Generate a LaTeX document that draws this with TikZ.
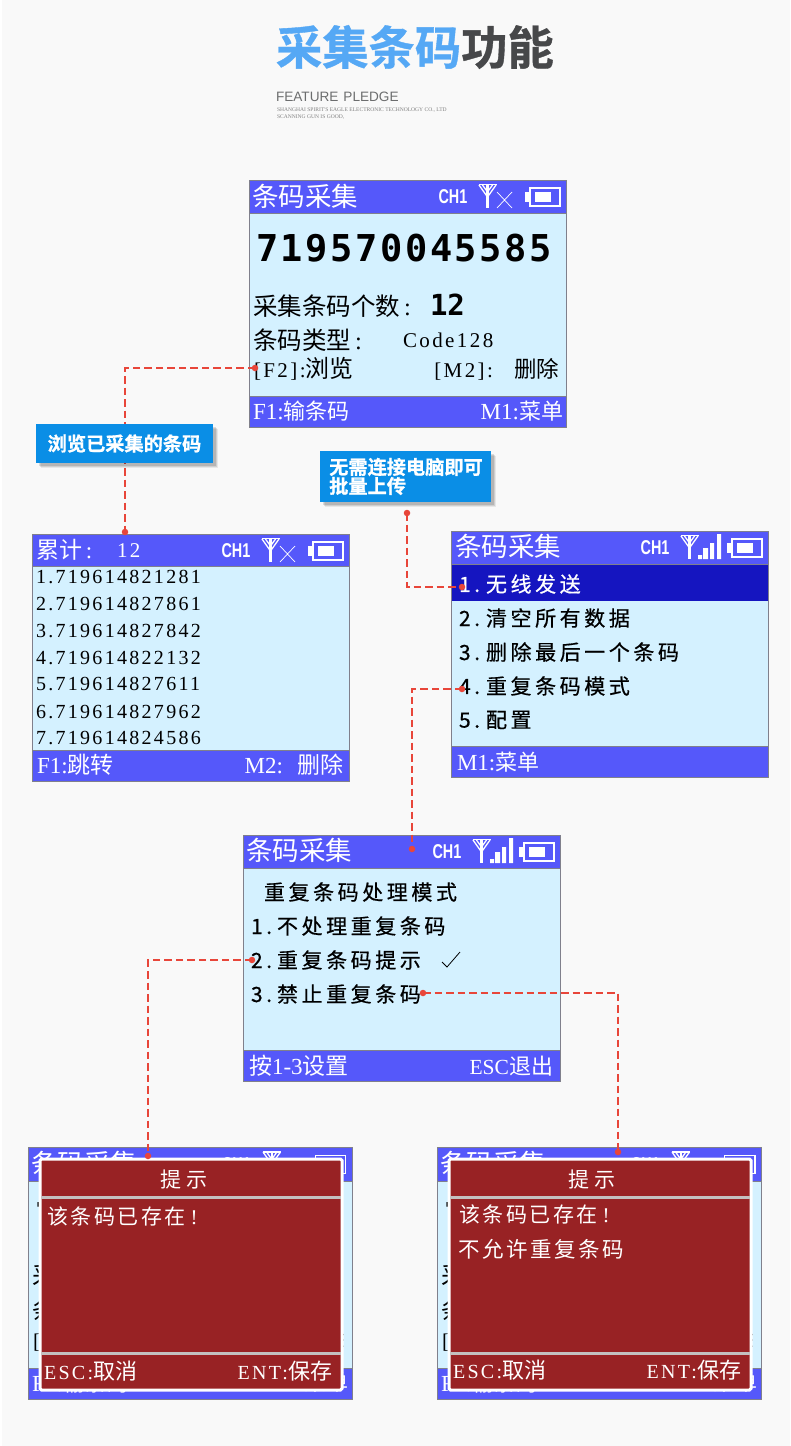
\documentclass[tikz,border=0pt]{standalone}
\usepackage{fontspec}
\usepackage{graphicx}
\usetikzlibrary{shadows}
\setmainfont{Liberation Serif}
\newfontfamily\cjk{Noto Sans CJK SC}
\newfontfamily\cjkw[LetterSpace=17,FakeBold=.6]{Noto Sans CJK SC}
\newfontfamily\cjkd[LetterSpace=12]{Noto Sans CJK SC}
\newfontfamily\cjkt[FakeBold=.8]{Noto Sans CJK SC Bold}
\newfontfamily\ser{Liberation Serif}
\newfontfamily\serw[LetterSpace=11.5]{Liberation Serif}
\newfontfamily\mono{DejaVu Sans Mono}
\newfontfamily\monow[LetterSpace=7]{DejaVu Sans Mono}
\newfontfamily\sans{Liberation Sans}
\newcommand{\fs}[1]{\fontsize{#1}{#1}\selectfont}
\definecolor{pagebg}{HTML}{F9F9F9}
\definecolor{hdrc}{HTML}{5558FA}
\definecolor{bodyc}{HTML}{D4F1FF}
\definecolor{framec}{HTML}{80808C}
\definecolor{hilite}{HTML}{1515C0}
\definecolor{dlgc}{HTML}{982224}
\definecolor{sepc}{HTML}{C4C0C0}
\definecolor{linkc}{HTML}{E8463A}
\definecolor{callc}{HTML}{0A8EE6}
\definecolor{titleb}{HTML}{55A8F5}
\definecolor{titled}{HTML}{47484A}
\tikzset{
  txt/.style={inner sep=0pt,outer sep=0pt,anchor=west,text=black},
  wtxt/.style={txt,text=white},
  etxt/.style={inner sep=0pt,outer sep=0pt,anchor=east,text=white},
  scrbody/.style={fill=bodyc,inner sep=0pt,outer sep=0pt,anchor=north west},
  scrline/.style={draw=framec,line width=1pt},
  conn/.style={draw=linkc,line width=1.8pt,dash pattern=on 7.5pt off 4pt},
  dotn/.style={circle,fill=linkc,inner sep=0pt,minimum size=6.5pt,outer sep=0pt},
  callout/.style={fill=callc,inner sep=0pt,outer sep=0pt,anchor=north west,text=white,
    font=\cjkt\fs{19},
    general shadow={shadow xshift=5pt,shadow yshift=-5pt,fill=black,opacity=.07},
    general shadow={shadow xshift=4pt,shadow yshift=-4pt,fill=black,opacity=.1},
    general shadow={shadow xshift=2.5pt,shadow yshift=-2.5pt,fill=black,opacity=.12}},
  dlg/.style={fill=dlgc,draw=white,line width=3pt,rounded corners=1.5pt,inner sep=0pt,outer sep=0pt,anchor=north west},
  iconw/.style={draw=white,line width=1.3pt}
}
% frame: name, x, y, w, h, header bottom, footer top
\newcommand{\scrframe}[7]{%
  \node[scrbody,minimum width=#4pt,minimum height=#5pt] (#1) at (0,0) {};
  \fill[hdrc] (0,0) rectangle (#4,#6);
  \fill[hdrc] (0,#7) rectangle (#4,#5);
  \draw[scrline] (0,#6) -- (#4,#6) (0,#7) -- (#4,#7);
  \draw[scrline] (#1.north west) rectangle (#1.south east);
}
\newcommand{\chicon}[1]{%
  \node[inner sep=0pt,text=white] (#1ch) at (204,17) {\sans\bfseries\fs{20}\scalebox{.72}[1]{CH1}};
  \draw[iconw,line width=1.8pt] (229.5,4.5) -- (247.5,4.5);
  \draw[iconw,line width=2.4pt] (238.5,4.5) -- (238.5,28);
  \draw[iconw] (230,5) -- (238.5,17) -- (247,5) (233.5,5) -- (238.5,12) -- (243.5,5);
  \draw[iconw] (281,8) rectangle (311,26);
  \fill[white] (286,12) rectangle (302,22);
  \fill[white] (276,12) rectangle (280,22);
}
\newcommand{\nosignal}{\draw[white,line width=.7pt] (248,12) -- (263,28) (263,12) -- (248,28);}
\newcommand{\bars}{\fill[white] (247,24) rectangle (251,28) (252,17) rectangle (257,28) (259,12) rectangle (263,28) (266,3) rectangle (270,28);}
% home screen contents
\newcommand{\homecontent}[1]{%
  \node[wtxt,font=\cjk\fs{26.5}] (#1title) at (3,16) {条码采集};
  \chicon{#1}\nosignal
  \node[txt,font=\monow\bfseries\fs{37}] (#1num) at (7,68) {719570045585};
  \node[txt,font=\cjk\fs{24.5}] (#1count) at (4,126) {采集条码个数\ser\,:};
  \node[txt,font=\mono\bfseries\fs{29}] (#1twelve) at (181,125) {12};
  \node[txt,font=\cjk\fs{24.5}] (#1type) at (4,160) {条码类型\ser\,:};
  \node[txt,font=\serw\fs{21}] (#1code) at (154,160) {Code128};
  \node[txt,font=\serw\fs{21}] (#1browse) at (5,189) {[F2]:\cjk\fs{24}浏览};
  \node[txt,font=\serw\fs{21},anchor=east] (#1del) at (310,189) {[M2]:\hspace{21pt}\cjk\fs{22.5}删除};
  \node[wtxt,font=\ser\fs{23}] (#1f1) at (4,231) {F1:\cjk\fs{22}输条码};
  \node[etxt,font=\ser\fs{23}] (#1m1) at (314,231) {M1:\cjk\fs{22}菜单};
}
\begin{document}
\begin{tikzpicture}[x=1pt,y=-1pt]
\useasboundingbox (0,0) rectangle (790,1446);
\fill[white] (0,0) rectangle (790,1446);
\fill[pagebg] (2,0) rectangle (790,1445.5);

% title
\node[txt,font=\cjkt\fs{46.3}] (title) at (276,47) {\textcolor{titleb}{采集条码}\textcolor{titled}{功能}};
\node[txt,text=titled!80,font=\sans\fs{13.6}] (feature) at (276,97) {FEATURE\hspace{5pt}PLEDGE};
\node[txt,text=gray,font=\ser\fs{5.55}] (sub1) at (277,110.5) {SHANGHAI SPIRIT'S EAGLE ELECTRONIC TECHNOLOGY CO., LTD};
\node[txt,text=gray,font=\ser\fs{5.55}] (sub2) at (277,117) {SCANNING GUN IS GOOD,};

% screen 1
\begin{scope}[shift={(249,180)}]
  \scrframe{sa}{249}{180}{317}{247}{33}{216}
  \homecontent{a}
\end{scope}

% screen 2: list
\begin{scope}[shift={(32,534)}]
  \scrframe{sb}{32}{534}{317}{247}{32}{216}
  \chicon{b}\nosignal
  \node[wtxt,font=\cjk\fs{23}] (btitle) at (4,16) {累计\ser\,:};
  \node[wtxt,font=\serw\fs{21}] (bcnt) at (85,17) {12};
  \node[txt,font=\serw\fs{20}] (bl1) at (4,43) {1.719614821281};
  \node[txt,font=\serw\fs{20}] (bl2) at (4,70) {2.719614827861};
  \node[txt,font=\serw\fs{20}] (bl3) at (4,97) {3.719614827842};
  \node[txt,font=\serw\fs{20}] (bl4) at (4,124) {4.719614822132};
  \node[txt,font=\serw\fs{20}] (bl5) at (4,150) {5.719614827611};
  \node[txt,font=\serw\fs{20}] (bl6) at (4,178) {6.719614827962};
  \node[txt,font=\serw\fs{20}] (bl7) at (4,204) {7.719614824586};
  \node[wtxt,font=\ser\fs{23}] (bf) at (5,231) {F1:\cjk\fs{23}跳转};
  \node[etxt,font=\ser\fs{23}] (bm) at (311,231) {M2:\hspace{14pt}\cjk\fs{23}删除};
\end{scope}

% screen 3: menu
\begin{scope}[shift={(451,531)}]
  \scrframe{sc}{451}{531}{317}{246}{33}{215}
  \fill[hilite] (0.5,34) rectangle (316.5,70);
  \node[wtxt,font=\cjk\fs{26.5}] (ctitle) at (4,15) {条码采集};
  \chicon{c}\bars
  \node[wtxt,font=\cjkw\fs{21}] (c1) at (8,53) {\makebox[27pt][l]{\fs{21}1.}无线发送};
  \node[txt,font=\cjkw\fs{21}] (c2) at (8,87) {\makebox[27pt][l]{\fs{21}2.}清空所有数据};
  \node[txt,font=\cjkw\fs{21}] (c3) at (8,121) {\makebox[27pt][l]{\fs{21}3.}删除最后一个条码};
  \node[txt,font=\cjkw\fs{21}] (c4) at (8,155) {\makebox[27pt][l]{\fs{21}4.}重复条码模式};
  \node[txt,font=\cjkw\fs{21}] (c5) at (8,189) {\makebox[27pt][l]{\fs{21}5.}配置};
  \node[wtxt,font=\ser\fs{23}] (cf) at (6,231) {M1:\cjk\fs{22}菜单};
\end{scope}

% screen 4: duplicate mode
\begin{scope}[shift={(243,835)}]
  \scrframe{sd}{243}{835}{317}{246}{33}{215}
  \node[wtxt,font=\cjk\fs{26.5}] (dtitle) at (3,15) {条码采集};
  \chicon{d}\bars
  \node[txt,font=\cjkw\fs{21}] (dhead) at (21,57) {重复条码处理模式};
  \node[txt,font=\cjkw\fs{21}] (d1) at (8,91) {\makebox[26pt][l]{\fs{21}1.}不处理重复条码};
  \node[txt,font=\cjkw\fs{21}] (d2) at (8,125) {\makebox[26pt][l]{\fs{21}2.}重复条码提示};
  \node[txt,font=\cjkw\fs{21}] (d3) at (8,159) {\makebox[26pt][l]{\fs{21}3.}禁止重复条码};
  \draw[black,line width=.8pt] (199,127) -- (204,132) -- (217,117);
  \node[wtxt,font=\cjk\fs{23}] (df) at (6,231) {按\ser 1-3\cjk 设置};
  \node[etxt,font=\ser\fs{21.5}] (dm) at (310,231) {ESC{\cjk\fs{22}退出}};
\end{scope}

% screen 5
\begin{scope}[shift={(28,1147)}]
  \scrframe{se}{28}{1147}{324}{252}{34}{221}
  \begin{scope}[xscale=1.022,yscale=1.02]
    \homecontent{e}
  \end{scope}
\end{scope}
\node[dlg,minimum width=302pt,minimum height=231pt] (dle) at (40,1159) {};
\draw[sepc,line width=3pt] (41,1197) -- (341,1197) (41,1353) -- (341,1353);
\node[inner sep=0pt,text=white,font=\cjkd\fs{21}] (dlehead) at (184,1180) {提\hspace{5pt}示};
\node[wtxt,font=\cjkd\fs{21}] (dlemsg) at (47,1216) {该条码已存在\hspace{5pt}\ser !};
\node[wtxt,font=\serw\fs{20}] (dleesc) at (44,1371) {ESC:\cjk\fs{22}取消};
\node[etxt,font=\serw\fs{20}] (dleent) at (332,1371) {ENT:\cjk\fs{22}保存};

% screen 6
\begin{scope}[shift={(437,1147)}]
  \scrframe{sf}{437}{1147}{324}{252}{34}{221}
  \begin{scope}[xscale=1.022,yscale=1.02]
    \homecontent{f}
  \end{scope}
\end{scope}
\node[dlg,minimum width=302pt,minimum height=231pt] (dlf) at (449,1159) {};
\draw[sepc,line width=3pt] (450,1197) -- (750,1197) (450,1353) -- (750,1353);
\node[inner sep=0pt,text=white,font=\cjkd\fs{21}] (dlfhead) at (592,1180) {提\hspace{5pt}示};
\node[wtxt,font=\cjkd\fs{21}] (dlfmsg) at (459,1214) {该条码已存在\hspace{5pt}\ser !};
\node[wtxt,font=\cjkd\fs{21.5}] (dlfmsg2) at (458,1249) {不允许重复条码};
\node[wtxt,font=\serw\fs{20}] (dlfesc) at (453,1370) {ESC:\cjk\fs{22}取消};
\node[etxt,font=\serw\fs{20}] (dlfent) at (741,1370) {ENT:\cjk\fs{22}保存};

% connectors
\node[dotn] (l1a) at (255,368) {};
\node[dotn] (l1b) at (125,532) {};
\draw[conn] (l1a.center) -| (l1b.center);
\node[dotn] (l2a) at (407,513) {};
\node[dotn] (l2b) at (462,587) {};
\draw[conn] (l2a.center) |- (l2b.center);
\node[dotn] (l3a) at (462,689) {};
\node[dotn] (l3b) at (412,849) {};
\draw[conn] (l3a.center) -| (l3b.center);
\node[dotn] (l4a) at (252,960) {};
\node[dotn] (l4b) at (148,1156) {};
\draw[conn] (l4a.center) -| (l4b.center);
\node[dotn] (l5a) at (423,993) {};
\node[dotn] (l5b) at (618,1152) {};
\draw[conn] (l5a.center) -| (l5b.center);

% callouts
\node[callout,minimum width=177pt,minimum height=39pt] (ca) at (36,424) {\fs{19.2}浏览已采集的条码};
\node[callout,minimum width=171pt,minimum height=51pt] (cb) at (320,451) {};
\node[inner sep=0pt,anchor=west,text=white,font=\cjkt\fs{19.2}] (cbt1) at (329,467) {无需连接电脑即可};
\node[inner sep=0pt,anchor=west,text=white,font=\cjkt\fs{19.2}] (cbt2) at (329,486) {批量上传};
\end{tikzpicture}
\end{document}
